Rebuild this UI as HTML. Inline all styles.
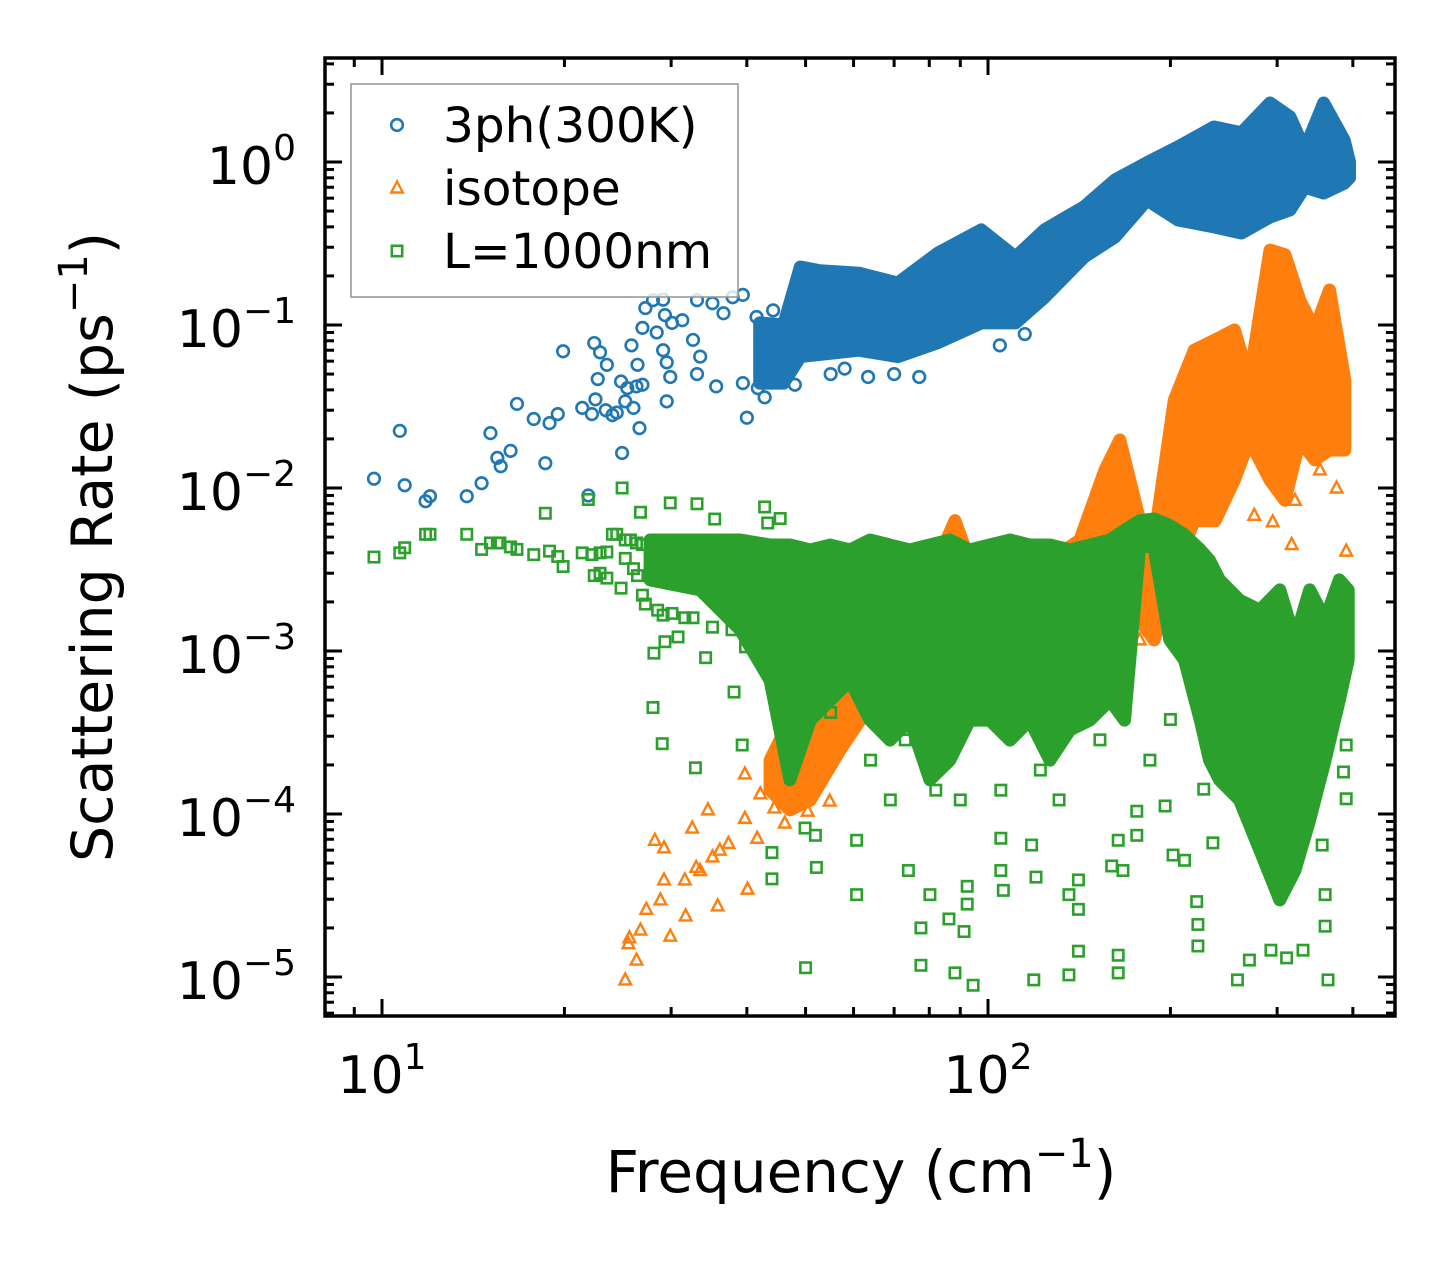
<!DOCTYPE html>
<html><head><meta charset="utf-8"><title>Scattering rate</title>
<style>html,body{margin:0;padding:0;background:#fff}svg{display:block}text{font-family:"DejaVu Sans","Liberation Sans",sans-serif;fill:#000}</style>
</head><body>
<svg id="chart" width="1455" height="1265" viewBox="0 0 1455 1265" xmlns="http://www.w3.org/2000/svg">
<defs><clipPath id="plotclip"><rect x="325" y="58" width="1070" height="958"/></clipPath></defs>
<g id="marks" clip-path="url(#plotclip)"></g>
<g id="axes"></g>
</svg>
<script>
const bluePoints=[[9.7,0.0114],[10.7,0.0224],[10.9,0.0104],[11.8,0.0083],[12.0,0.0089],[13.8,0.0089],[14.6,0.0107],[15.1,0.0217],[15.5,0.0153],[15.7,0.0136],[16.3,0.0169],[16.7,0.0328],[17.8,0.0265],[18.6,0.0142],[18.9,0.025],[19.5,0.0284],[19.9,0.069],[21.4,0.031],[22.2,0.0284],[21.9,0.009],[22.4,0.0775],[22.9,0.068],[23.5,0.057],[22.7,0.0466],[22.5,0.035],[23.4,0.030],[24.0,0.028],[24.4,0.029],[24.9,0.0164],[24.8,0.045],[25.4,0.041],[26.3,0.042],[26.9,0.043],[25.2,0.034],[26.0,0.031],[26.6,0.0233],[25.8,0.075],[26.4,0.057],[26.9,0.096],[27.2,0.127],[28.0,0.142],[29.1,0.143],[28.4,0.090],[29.3,0.115],[30.1,0.103],[29.1,0.070],[29.5,0.059],[29.9,0.048],[29.5,0.034],[31.3,0.107],[32.6,0.081],[33.5,0.064],[33.1,0.050],[33.1,0.142],[35.1,0.136],[36.6,0.118],[35.6,0.042],[39.4,0.044],[41.7,0.041],[42.8,0.036],[40.0,0.027],[37.9,0.148],[39.4,0.153],[41.5,0.112],[44.2,0.123],[63.4,0.048],[70,0.050],[77,0.048],[104.6,0.075],[115,0.088],[58,0.054],[55,0.050],[48,0.043]];
const blueBand=[[42,0.044,0.103],[46,0.044,0.10],[49,0.064,0.227],[52.8,0.066,0.215],[61.2,0.070,0.208],[71,0.064,0.181],[82.7,0.078,0.276],[97.5,0.103,0.383],[111,0.103,0.261],[124,0.148,0.383],[144,0.261,0.53],[162,0.347,0.776],[183,0.585,0.99],[206,0.441,1.24],[236,0.40,1.64],[262,0.367,1.51],[292,0.46,2.3],[315,0.508,1.89],[333,0.70,1.19],[358,0.645,2.3],[387,0.74,1.36],[395,0.80,1.0]];
const orangePoints=[[25.2,9.6e-6],[26.3,1.27e-5],[25.6,1.74e-5],[27.3,2.6e-5],[29.2,3.94e-5],[29.2,6.2e-5],[29.9,1.78e-5],[31.7,2.37e-5],[33.0,4.7e-5],[35.1,5.45e-5],[35.8,2.73e-5],[37.3,6.6e-5],[39.7,9.4e-5],[40.1,3.46e-5],[41.6,7.1e-5],[39.7,1.76e-4],[42.1,1.33e-4],[44.4,1.09e-4],[46.2,8.8e-5],[50.4,1.04e-4],[54.8,1.2e-4],[25.5,1.6e-5],[26.7,1.94e-5],[28.2,6.9e-5],[28.8,2.97e-5],[31.6,3.94e-5],[33.5,4.5e-5],[36.1,6.0e-5],[32.5,8.2e-5],[34.5,1.06e-4],[295,0.0062],[321,0.0084],[353,0.0129],[376,0.010],[390,0.0041],[317,0.0045],[275,0.0068],[237,0.00205],[224,0.00237],[178,0.00117]];
const orangeBand=[[43.7,1.4e-4,2.14e-4],[47.1,1.06e-4,3.77e-4],[50.9,1.22e-4,5.76e-4],[57,2.47e-4,1.01e-3],[61.5,3.77e-4,1.55e-3],[66.3,5.0e-4,1.78e-3],[77.2,5.0e-4,2.05e-3],[88.2,6.6e-4,6.3e-3],[97,5.0e-4,2.37e-3],[108.7,6.6e-4,4.8e-3],[126.5,8.8e-4,3.6e-3],[141.8,1.17e-3,4.8e-3],[156,1.55e-3,0.0129],[165,2.05e-3,0.0197],[178,1.55e-3,6.3e-3],[188,1.17e-3,4.8e-3],[203,3.14e-3,0.0346],[219,6.3e-3,0.070],[237,6.3e-3,0.0809],[255,0.0112,0.0932],[270,0.0197,0.046],[292,0.0112,0.288],[309,8.4e-3,0.27],[327,0.0197,0.142],[346,0.0149,0.0932],[366,0.0171,0.164],[388,0.0171,0.046]];
const greenPoints=[[9.7,3.77e-3],[10.7,4.0e-3],[10.9,4.3e-3],[11.8,5.2e-3],[12.0,5.2e-3],[13.8,5.2e-3],[14.6,4.2e-3],[15.1,4.6e-3],[15.5,4.6e-3],[15.65,4.6e-3],[16.3,4.35e-3],[16.7,4.2e-3],[17.8,3.9e-3],[18.6,7.0e-3],[18.9,4.1e-3],[19.5,3.8e-3],[19.9,3.3e-3],[21.4,4.0e-3],[22.2,3.9e-3],[22.9,4.0e-3],[23.5,4.05e-3],[21.9,8.5e-3],[22.4,2.9e-3],[22.9,3.0e-3],[23.5,2.8e-3],[24.0,5.2e-3],[24.4,5.2e-3],[24.9,1.0e-2],[24.8,2.43e-3],[25.2,4.8e-3],[25.7,4.8e-3],[26.3,4.6e-3],[26.9,4.5e-3],[25.2,3.7e-3],[26.0,3.2e-3],[26.4,2.9e-3],[26.7,7.1e-3],[26.9,2.2e-3],[27.2,1.94e-3],[28.5,1.78e-3],[29.1,1.66e-3],[30.1,1.7e-3],[29.1,3.7e-3],[29.9,4.1e-3],[29.9,8.1e-3],[33.1,8.0e-3],[35.4,6.45e-3],[42.8,7.65e-3],[43.3,6.1e-3],[45.4,6.5e-3],[31.6,1.6e-3],[32.6,1.6e-3],[28.1,9.7e-4],[34.2,9.1e-4],[39.8,1.06e-3],[35.1,1.4e-3],[37.8,1.35e-3],[29.3,1.14e-3],[30.8,1.22e-3],[28.0,4.5e-4],[29.0,2.7e-4],[32.9,1.92e-4],[38.1,5.6e-4],[39.3,2.65e-4],[44.0,5.8e-5],[44.0,4.0e-5],[50.0,1.14e-5],[49.9,8.2e-5],[51.9,7.4e-5],[52.1,4.7e-5],[60.7,6.9e-5],[60.7,3.2e-5],[73.9,4.5e-5],[77.5,1.18e-5],[77.5,2.0e-5],[80.2,3.2e-5],[86.2,2.27e-5],[88.2,1.06e-5],[91.3,1.9e-5],[92.4,3.6e-5],[92.4,2.8e-5],[94.5,8.9e-6],[105,7.1e-5],[105,4.5e-5],[106,3.4e-5],[118,6.45e-5],[120,4.1e-5],[119,9.6e-6],[136,1.03e-5],[136,3.2e-5],[141,2.6e-5],[141,1.44e-5],[141,3.94e-5],[160,4.8e-5],[167,4.5e-5],[164,6.9e-5],[164,1.36e-5],[164,1.06e-5],[176,7.4e-5],[176,1.04e-4],[196,1.12e-4],[202,5.6e-5],[211,5.2e-5],[222,2.1e-5],[222,1.55e-5],[221,2.9e-5],[258,9.6e-6],[270,1.27e-5],[293,1.46e-5],[311,1.31e-5],[331,1.46e-5],[364,9.6e-6],[360,2.05e-5],[360,3.2e-5],[356,6.45e-5],[390,1.24e-4],[386,1.81e-4],[390,2.65e-4],[227,1.42e-4],[235,6.65e-5],[55,4.2e-4],[64,2.14e-4],[73,2.85e-4],[90,1.22e-4],[105,1.4e-4],[122,1.86e-4],[131,1.22e-4],[69,1.22e-4],[82,1.4e-4],[185,2.14e-4],[200,3.8e-4],[153,2.85e-4]];
const greenBand=[[27.7,2.73e-3,4.8e-3],[33.5,2.37e-3,4.8e-3],[39,1.35e-3,4.8e-3],[43.7,6.6e-4,4.47e-3],[47.1,1.62e-4,4.47e-3],[50.9,3.77e-4,4.17e-3],[54.9,5.0e-4,4.47e-3],[59.2,6.6e-4,4.17e-3],[63.9,3.77e-4,4.8e-3],[68.9,2.84e-4,4.47e-3],[74.3,3.77e-4,4.17e-3],[80.2,1.62e-4,4.47e-3],[86.5,2.14e-4,4.8e-3],[93.3,3.77e-4,4.17e-3],[100.7,3.77e-4,4.47e-3],[108.7,2.84e-4,4.8e-3],[117.2,3.77e-4,4.47e-3],[126.5,2.14e-4,4.47e-3],[136.5,3.28e-4,4.17e-3],[147.2,3.77e-4,4.47e-3],[158.9,5.0e-4,4.8e-3],[168,3.77e-4,5.5e-3],[178,4.47e-3,6.3e-3],[188,4.3e-3,6.45e-3],[199.5,1.17e-3,5.9e-3],[211,8.8e-4,5.15e-3],[224,3.77e-4,4.17e-3],[232,2.14e-4,3.6e-3],[241,1.62e-4,2.73e-3],[260,1.22e-4,2.05e-3],[281,6.0e-5,1.78e-3],[303,2.97e-5,2.37e-3],[321,4.5e-5,1.17e-3],[339.5,9.2e-5,2.37e-3],[360,2.14e-4,1.55e-3],[380,5.0e-4,2.73e-3],[393,8.8e-4,2.37e-3]];
const xMajorTicks=[10,100];
const xMinorTicks=[8,9,20,30,40,50,60,70,80,90,200,300,400];
const yMajorExps=[0,-1,-2,-3,-4,-5];
const legendLabels=["3ph(300K)","isotope","L=1000nm"];

const NS="http://www.w3.org/2000/svg";
const X0=325,X1=1395,Y0=58,Y1=1016;
function xs(f){return 382+606*(Math.log10(f)-1);}
function ys(v){return 162-163*Math.log10(v);}
function mk(tag,attrs,parent){const e=document.createElementNS(NS,tag);for(const k in attrs)e.setAttribute(k,attrs[k]);parent.appendChild(e);return e;}
const marks=document.getElementById('marks');
const axes=document.getElementById('axes');
const C={blue:'#1f77b4',orange:'#ff7f0e',green:'#2ca02c'};

function drawBand(band,color,name){
  const top=band.map(d=>xs(d[0]).toFixed(1)+','+ys(d[2]).toFixed(1));
  const bot=band.slice().reverse().map(d=>xs(d[0]).toFixed(1)+','+ys(d[1]).toFixed(1));
  const p=mk('polygon',{points:top.concat(bot).join(' '),fill:color,stroke:color,'stroke-width':13,'stroke-linejoin':'round'},marks);
  
  
}
function marker(shape,x,y,color,parent){
  let e;
  if(shape==='circle'){e=mk('circle',{cx:x,cy:y,r:5.8,fill:'none',stroke:color,'stroke-width':2.6},parent);}
  else if(shape==='square'){e=mk('rect',{x:x-5.2,y:y-5.2,width:10.4,height:10.4,fill:'none',stroke:color,'stroke-width':2.6},parent);}
  else{e=mk('polygon',{points:`${x},${y-6.5} ${x-5.8},${y+4.5} ${x+5.8},${y+4.5}`,fill:'none',stroke:color,'stroke-width':2.4,'stroke-linejoin':'miter'},parent);}
  return e;
}
function drawPoints(pts,shape,color,name){
  pts.forEach(d=>{
    const e=marker(shape,xs(d[0]),ys(d[1]),color,marks);
    
    
  });
}
drawBand(blueBand,C.blue,'3ph-dense-cloud');
drawPoints(bluePoints,'circle',C.blue,'3ph-point');
drawBand(orangeBand,C.orange,'isotope-dense-cloud');
drawPoints(orangePoints,'triangle',C.orange,'isotope-point');
drawBand(greenBand,C.green,'boundary-dense-cloud');
drawPoints(greenPoints,'square',C.green,'boundary-point');

function tick(x1,y1,x2,y2,name){const t=mk('line',{x1,y1,x2,y2,stroke:'#000','stroke-width':3},axes);}
xMajorTicks.forEach(f=>{const x=xs(f);tick(x,Y1,x,Y1-17,'x-major-tick');tick(x,Y0,x,Y0+17,'x-major-tick-top');});
xMinorTicks.forEach(f=>{const x=xs(f);if(x<X0||x>X1)return;tick(x,Y1,x,Y1-9,'x-minor-tick');tick(x,Y0,x,Y0+9,'x-minor-tick-top');});
for(let e=1;e>=-6;e--){
  for(let m=1;m<10;m++){
    const y=ys(m*Math.pow(10,e));
    if(y<Y0+1||y>Y1-1)continue;
    const L=(m===1)?17:9;
    tick(X0,y,X0+L,y,m===1?'y-major-tick':'y-minor-tick');
    tick(X1,y,X1-L,y,m===1?'y-major-tick-right':'y-minor-tick-right');
  }
}
const frame=mk('rect',{x:X0,y:Y0,width:X1-X0,height:Y1-Y0,fill:'none',stroke:'#000','stroke-width':3.5},axes);



function sup(base,exp,x,y,anchor,name){
  const t=mk('text',{x,y,'font-size':52,'text-anchor':anchor},axes);
  
  
  const a=mk('tspan',{},t);a.textContent=base;
  const b=mk('tspan',{'font-size':36,dy:-24},t);b.textContent=exp;
}
yMajorExps.forEach(e=>{sup('10',e===0?'0':'\u2212'+(-e),296,ys(Math.pow(10,e))+22,'end','y-tick-label');});
xMajorTicks.forEach(f=>{sup('10',String(Math.round(Math.log10(f))),xs(f),1093,'middle','x-tick-label');});

const lg=mk('g',{},axes);


const lb=mk('rect',{x:351,y:84,width:387,height:213,fill:'#fff','fill-opacity':0.8,stroke:'#999','stroke-width':1.6},lg);


const shapes=['circle','triangle','square'],cols=[C.blue,C.orange,C.green],ly=[125,188,251];
legendLabels.forEach((s,i)=>{
  const m=marker(shapes[i],397,ly[i],cols[i],lg);
  
  
  const t=mk('text',{x:443,y:ly[i]+17,'font-size':48.5},lg);
  t.textContent=s;
  
  
});

const xl=mk('text',{x:861,y:1192,'font-size':58,'text-anchor':'middle'},axes);


xl.innerHTML='Frequency (cm<tspan font-size="40" dy="-25">\u22121</tspan><tspan dy="25">)</tspan>';
const yl=mk('text',{transform:'translate(112,547) rotate(-90)','font-size':57,'text-anchor':'middle'},axes);


yl.innerHTML='Scattering Rate (ps<tspan font-size="40" dy="-25">\u22121</tspan><tspan dy="25">)</tspan>';
</script>
</body></html>
